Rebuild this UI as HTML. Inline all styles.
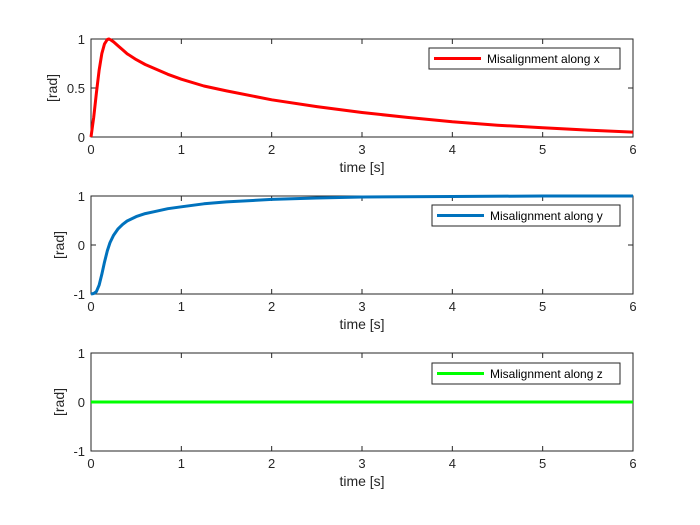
<!DOCTYPE html>
<html><head><meta charset="utf-8"><style>
body{margin:0;background:#fff;}
svg{display:block;font-family:"Liberation Sans",Arial,sans-serif;}
</style></head><body>
<svg id="c" width="700" height="525"></svg>
<script>
const timeX=[0,0.03,0.06,0.09,0.12,0.15,0.18,0.2,0.22,0.25,0.3,0.35,0.4,0.5,0.6,0.7,0.85,1,1.25,1.5,2,2.5,3,3.5,4,4.5,5,5.5,6];
const misX=[0,0.2,0.45,0.68,0.85,0.95,0.995,1.0,0.99,0.97,0.93,0.89,0.85,0.79,0.74,0.7,0.64,0.59,0.52,0.47,0.38,0.31,0.25,0.2,0.155,0.12,0.095,0.07,0.05];
const timeY=[0,0.03,0.06,0.09,0.12,0.15,0.18,0.21,0.25,0.3,0.35,0.4,0.5,0.6,0.7,0.85,1,1.25,1.5,2,2.5,3,4,5,6];
const misY=[-1,-0.99,-0.95,-0.82,-0.6,-0.35,-0.12,0.05,0.2,0.33,0.42,0.49,0.58,0.64,0.68,0.74,0.78,0.84,0.88,0.93,0.96,0.98,0.99,1.0,1.0];
const timeZ=[0,6];
const misZ=[0,0];
const xTicks=[0,1,2,3,4,5,6];
const yTicks1=[0,0.5,1], yTicks2=[-1,0,1], yTicks3=[-1,0,1];
const NS="http://www.w3.org/2000/svg";
const svg=document.getElementById('c');
function mk(t,a,p){const e=document.createElementNS(NS,t);for(const k in a)e.setAttribute(k,a[k]);(p||svg).appendChild(e);return e;}
const L=91,R=633;
const panels=[
 {top:39,bot:137,ymin:0,ymax:1,yt:yTicks1,xs:timeX,ys:misX,col:'#ff0000',lab:'Misalignment along x',lg:[429,48],n:'x',ylx:57},
 {top:196,bot:294,ymin:-1,ymax:1,yt:yTicks2,xs:timeY,ys:misY,col:'#0072bd',lab:'Misalignment along y',lg:[432,205],n:'y',ylx:64},
 {top:353,bot:451,ymin:-1,ymax:1,yt:yTicks3,xs:timeZ,ys:misZ,col:'#00ff00',lab:'Misalignment along z',lg:[432,363],n:'z',ylx:64}
];
panels.forEach(p=>{
 const g=mk('g',{});
 
 
 const sx=v=>L+(v-0)/6*(R-L);
 const sy=v=>p.bot-(v-p.ymin)/(p.ymax-p.ymin)*(p.bot-p.top);
 mk('rect',{x:L,y:p.top,width:R-L,height:p.bot-p.top,fill:'#fff',stroke:'#262626','stroke-width':1},g);
 xTicks.forEach(t=>{
  const x=sx(t);
  mk('line',{x1:x,x2:x,y1:p.bot,y2:p.bot-5,stroke:'#262626'},g);
  mk('line',{x1:x,x2:x,y1:p.top,y2:p.top+5,stroke:'#262626'},g);
  const tx=mk('text',{x:x,y:p.bot+17,'text-anchor':'middle','font-size':13,fill:'#262626'},g);tx.textContent=t;
  
  
 });
 p.yt.forEach(t=>{
  const y=sy(t);
  mk('line',{x1:L,x2:L+5,y1:y,y2:y,stroke:'#262626'},g);
  mk('line',{x1:R,x2:R-5,y1:y,y2:y,stroke:'#262626'},g);
  const tx=mk('text',{x:L-6,y:y+5,'text-anchor':'end','font-size':13,fill:'#262626'},g);tx.textContent=t;
  
  
 });
 const xl=mk('text',{x:(L+R)/2,y:p.bot+35,'text-anchor':'middle','font-size':14,fill:'#262626'},g);xl.textContent='time [s]';
 
 
 const cy=(p.top+p.bot)/2;
 const yl=mk('text',{x:p.ylx,y:cy,'text-anchor':'middle','font-size':14,fill:'#262626',transform:`rotate(-90 ${p.ylx} ${cy})`},g);yl.textContent='[rad]';
 
 
 const d=p.xs.map((v,i)=>(i?'L':'M')+sx(v).toFixed(1)+' '+sy(p.ys[i]).toFixed(1)).join(' ');
 const ln=mk('path',{d:d,fill:'none',stroke:p.col,'stroke-width':3,'stroke-linejoin':'round'},g);
 
 
 const [lx,ly]=p.lg;
 const lg=mk('g',{},g);
 
 
 mk('rect',{x:lx,y:ly,width:620-lx,height:21,fill:'#fff',stroke:'#262626'},lg);
 mk('line',{x1:lx+5,x2:lx+52,y1:ly+10.5,y2:ly+10.5,stroke:p.col,'stroke-width':3},lg);
 const lt=mk('text',{x:lx+58,y:ly+15,'font-size':12,fill:'#000'},lg);lt.textContent=p.lab;
});
</script>
</body></html>
